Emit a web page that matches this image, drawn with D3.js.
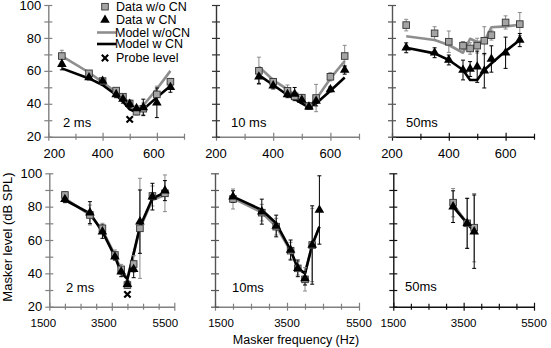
<!DOCTYPE html>
<html>
<head>
<meta charset="utf-8">
<script src="https://cdn.jsdelivr.net/npm/d3@7"></script>
<style>
  body { margin: 0; background: #fff; }
  svg { display: block; font-family: "Liberation Sans", Arial, Helvetica, sans-serif; }
</style>
</head>
<body>
<script>
// masker frequencies (Hz)
const freqLow = [250, 350, 400, 450, 475, 500, 525, 550, 600, 650];
const freqLow10 = [350, 400, 450, 475, 500, 525, 550, 600, 650];
const freqHigh = [2000, 2800, 3200, 3600, 3800, 4000, 4200, 4400, 4800, 5200];
const freqHigh10 = [2000, 2800, 3200, 3600, 3800, 4000, 4200, 4400];
const freqHigh10Sq = [2000, 2800, 3200, 3600, 3800, 4000, 4200];
const freqHigh50 = [3200, 3600, 3800];

// 500 Hz probe
const low2NoCN = [69, 58.5, 53.8, 48, 44.3, 40.2, 35.2, 37, 45.7, 53.4];
const low2NoCNErr = [3.5, 1.5, 1.5, 1.5, 1.5, 2, 2, 3.5, 5, 2];
const low2CN = [64.1, 56, 53.8, 45.7, 42.9, 39.8, 37.2, 37.8, 40.6, 50];
const low2CNErr = [3.5, 1.5, 1, 2, 2.5, 2, 1.5, 5, 9, 3];
const low2ModelNoCN = [69, 59, 53, 47, 44, 38.5, 35.5, 39, 49, 60];
const low2ModelCN = [61.5, 55.4, 51.4, 45.3, 41.3, 36.6, 34.8, 36.6, 43.9, 50.8];

const low10NoCN = [60, 53.4, 47.9, 44.5, 43.7, 38.6, 43.5, 56.4, 69];
const low10NoCNErr = [8.3, 2, 3.5, 2, 2, 2, 8.3, 2.5, 6.5];
const low10CN = [56.4, 51, 45.7, 45.9, 42.3, 38.2, 41.7, 48.7, 60.5];
const low10CNErr = [4, 2, 2, 4, 2, 1.5, 3, 1.5, 2.5];
const low10ModelNoCN = [62.5, 54.4, 48.7, 45.5, 42.3, 38.6, 42.7, 55.4, 66];
const low10ModelCN = [57.4, 51.4, 45.3, 43, 40.2, 37.8, 40.2, 47.9, 56];

const low50NoCN = [87.8, 82.8, 77.7, 75.3, 73.6, 75.3, 78.3, 81.7, 89.4, 88.4];
const low50NoCNErr = [3.5, 4, 6.5, 2.5, 3.5, 4.5, 8.5, 3, 4, 7];
const low50CN = [74, 71, 66.6, 60.5, 61.1, 62.5, 60.1, 67.2, 71, 78.7];
const low50CNErr = [3, 3, 3, 6, 4.5, 9.5, 10.5, 8, 9.5, 4];
const low50ModelNoCN = [81, 78.7, 75.7, 71, 79.5, 77.5, 78, 86.5, 87, 88];
const low50ModelCN = [74, 70.6, 66.6, 60.5, 54.4, 54.4, 60.5, 64.5, 72, 78.7];

// 4000 Hz probe
const high2NoCN = [87, 75, 67, 51, 42.4, 33, 45.6, 67, 86.4, 88];
const high2NoCNErr = [2, 6, 3, 3, 3, 2, 5, 30, 6, 11];
const high2CN = [84.4, 76.4, 65, 50, 41, 33.5, 42.4, 71, 86, 89.6];
const high2CNErr = [2, 6.6, 4, 2, 3, 2, 5, 19, 8, 6];
const high2ModelNoCN = [85, 75, 66, 51, 42, 37, 52, 67, 84, 87];
const high2ModelCN = [84, 76, 65, 50, 40.5, 36.5, 52, 68, 85, 88.5];

const high10NoCN = [84.6, 76.4, 68, 53.6, 43, 36.4, 57];
const high10NoCNErr = [6, 5, 5, 5, 4, 7, 22];
const high10CN = [86, 77, 68.4, 54, 43, 37, 57, 78];
const high10CNErr = [3.5, 7.5, 6.5, 6, 5, 4, 23.5, 20.5];
const high10ModelNoCN = [85, 76.5, 68, 53.5, 43, 40, 57, 68];
const high10ModelCN = [86, 78, 70, 54, 43, 40, 57, 68];

const high50NoCN = [82.4, 70, 67.4];
const high50NoCNErr = [8.5, 15, 20.5];
const high50CN = [80, 70, 65];
const high50CNErr = [9.5, 15, 22];
const high50ModelNoCN = [81.5, 70, 66];
const high50ModelCN = [80, 70, 65];

// probe levels
const probeFreq = [500, 4000];
const probeLevel = [30.5, 27.4];

const durationTags = ["2 ms", "10 ms", "50ms", "2 ms", "10ms", "50ms"];
const levelTicks = [20, 30, 40, 50, 60, 70, 80, 90, 100];
const levelLabels = [20, 40, 60, 80, 100];
const lowTicks = [200, 300, 400, 500, 600, 700];
const lowLabels = [200, 400, 600];
const highTicks = [1500, 2000, 2500, 3000, 3500, 4000, 4500, 5000, 5500];
const highLabels = [1500, 3500, 5500];

const legendLabels = ["Data w/o CN", "Data w CN", "Model w/oCN", "Model w CN", "Probe level"];

const W = 551, H = 348;
const GREY = "#8e8e8e", FILL = "#a4a4a4";

const svg = d3.select("body").append("svg")
  .attr("width", W).attr("height", H);

const pz = (fq, vals) => fq.map((f, i) => ({f, v: vals[i]}));
const pe = (fq, vals, err) => fq.map((f, i) => ({f, v: vals[i], e: err[i]}));

const panels = [
  {x: [48.3, 184], y: [136.7, 5], dom: [200, 700], ticks: lowTicks, labels: lowLabels, big: 13,
   xc: "#808080", yc: "#808080", ylab: true, tag: [63, 127], nudge: {200: 6, 600: -3},
   sq: pe(freqLow, low2NoCN, low2NoCNErr), tri: pe(freqLow, low2CN, low2CNErr),
   mg: pz(freqLow, low2ModelNoCN), mb: pz(freqLow, low2ModelCN), probe: 0},
  {x: [216, 359], y: [136.7, 5], dom: [200, 700], ticks: lowTicks, labels: lowLabels, big: 13,
   xc: "#808080", yc: "#333", ylab: false, tag: [231, 127], nudge: {},
   sq: pe(freqLow10, low10NoCN, low10NoCNErr), tri: pe(freqLow10, low10CN, low10CNErr),
   mg: pz(freqLow10, low10ModelNoCN), mb: pz(freqLow10, low10ModelCN)},
  {x: [392, 534], y: [136.7, 5], dom: [200, 700], ticks: lowTicks, labels: lowLabels, big: 13,
   xc: "#111", yc: "#555", ylab: false, tag: [406, 127], nudge: {},
   sq: pe(freqLow, low50NoCN, low50NoCNErr), tri: pe(freqLow, low50CN, low50CNErr),
   mg: pz(freqLow, low50ModelNoCN), mb: pz(freqLow, low50ModelCN)},
  {x: [49.3, 174.3], y: [306.7, 173.3], dom: [1500, 5500], ticks: highTicks, labels: highLabels, big: 11.5,
   xc: "#808080", yc: "#808080", ylab: true, tag: [66, 292], nudge: {1500: -6, 3500: -8, 5500: -9},
   sq: pe(freqHigh, high2NoCN, high2NoCNErr), tri: pe(freqHigh, high2CN, high2CNErr),
   mg: pz(freqHigh, high2ModelNoCN), mb: pz(freqHigh, high2ModelCN), probe: 1},
  {x: [215, 359], y: [306.7, 173.3], dom: [1500, 5500], ticks: highTicks, labels: highLabels, big: 11.5,
   xc: "#808080", yc: "#555", ylab: false, tag: [232, 292], nudge: {1500: 6},
   sq: pe(freqHigh10Sq, high10NoCN, high10NoCNErr), tri: pe(freqHigh10, high10CN, high10CNErr),
   mg: pz(freqHigh10, high10ModelNoCN), mb: pz(freqHigh10, high10ModelCN)},
  {x: [393.3, 534], y: [306.7, 173.3], dom: [1500, 5500], ticks: highTicks, labels: highLabels, big: 11.5,
   xc: "#111", yc: "#111", ylab: false, tag: [405, 291], nudge: {},
   sq: pe(freqHigh50, high50NoCN, high50NoCNErr), tri: pe(freqHigh50, high50CN, high50CNErr),
   mg: pz(freqHigh50, high50ModelNoCN), mb: pz(freqHigh50, high50ModelCN)}
];

const triSym = d3.symbol(d3.symbolTriangle, 40);
const xSym = d3.symbol(d3.symbolX, 28);

panels.forEach((p, k) => {
  const x = d3.scaleLinear().domain(p.dom).range(p.x);
  const y = d3.scaleLinear().domain([20, 100]).range(p.y);
  const g = svg.append("g");

  // x axis with crossing ticks
  const xa = g.append("g").attr("transform", `translate(0,${p.y[0]})`)
    .call(d3.axisBottom(x).tickValues(p.ticks).tickSize(0).tickFormat(""));
  xa.select(".domain").attr("stroke", p.xc).attr("stroke-width", 1.4);
  xa.selectAll(".tick line").attr("stroke", p.xc).attr("stroke-width", 1.2)
    .attr("y1", d => p.labels.includes(d) ? -4 : -3).attr("y2", d => p.labels.includes(d) ? 4 : 3);
  p.labels.forEach(v => {
    g.append("text").attr("x", x(v) + (p.nudge[v] || 0))
      .attr("y", p.y[0] + (p.big > 12 ? 21 : 20))
      .attr("text-anchor", "middle").attr("font-size", p.big).text(v);
  });

  // y axis
  const ya = g.append("g").attr("transform", `translate(${p.x[0]},0)`)
    .call(d3.axisLeft(y).tickValues(levelTicks).tickSize(0).tickFormat(""));
  ya.select(".domain").attr("stroke", p.yc).attr("stroke-width", 1.4);
  ya.selectAll(".tick line").attr("stroke", p.yc).attr("stroke-width", 1.2)
    .attr("x1", -4).attr("x2", 4);
  if (p.ylab) {
    levelLabels.forEach(v => {
      g.append("text").attr("x", p.x[0] - 7).attr("y", y(v) + 4.6)
        .attr("text-anchor", "end").attr("font-size", 13).text(v);
    });
  }

  g.append("text").attr("x", p.tag[0]).attr("y", p.tag[1])
    .attr("font-size", 13).text(durationTags[k]);

  const line = d3.line().x(d => x(d.f)).y(d => y(d.v));
  g.append("path").datum(p.mg).attr("d", line).attr("fill", "none")
    .attr("stroke", GREY).attr("stroke-width", 2.6).attr("stroke-linejoin", "round");
  g.append("path").datum(p.mb).attr("d", line).attr("fill", "none")
    .attr("stroke", "#000").attr("stroke-width", 2.6).attr("stroke-linejoin", "round");

  // error bars
  const bars = (data, col) => {
    const eb = g.append("g").attr("stroke", col).attr("stroke-width", 1);
    data.forEach(d => {
      const cx = x(d.f), y0 = y(d.v - d.e), y1 = y(d.v + d.e);
      eb.append("line").attr("x1", cx).attr("x2", cx).attr("y1", y0).attr("y2", y1);
      eb.append("line").attr("x1", cx - 2).attr("x2", cx + 2).attr("y1", y0).attr("y2", y0);
      eb.append("line").attr("x1", cx - 2).attr("x2", cx + 2).attr("y1", y1).attr("y2", y1);
    });
  };
  bars(p.sq, "#8a8a8a");
  bars(p.tri, "#000");

  g.selectAll(".sq").data(p.sq).join("rect")
    .attr("x", d => x(d.f) - 3.3).attr("y", d => y(d.v) - 3.3)
    .attr("width", 6.6).attr("height", 6.6)
    .attr("fill", FILL).attr("stroke", "#333").attr("stroke-width", 0.9);
  g.selectAll(".tri").data(p.tri).join("path")
    .attr("d", triSym).attr("transform", d => `translate(${x(d.f)},${y(d.v)})`)
    .attr("fill", "#000");

  if (p.probe !== undefined) {
    g.append("path").attr("d", xSym)
      .attr("transform", `translate(${x(probeFreq[p.probe])},${y(probeLevel[p.probe])})`)
      .attr("stroke", "#000").attr("stroke-width", 2.2);
  }
});

// legend
const lg = svg.append("g");
const lx = 105, tx = 116;
const rows = [6.7, 20, 32.5, 44, 58];
lg.append("rect").attr("x", lx - 3.3).attr("y", rows[0] - 3.3).attr("width", 6.6).attr("height", 6.6)
  .attr("fill", FILL).attr("stroke", "#333").attr("stroke-width", 0.9);
lg.append("path").attr("d", triSym).attr("transform", `translate(${lx},${rows[1]})`).attr("fill", "#000");
lg.append("line").attr("x1", 97).attr("x2", tx).attr("y1", rows[2]).attr("y2", rows[2])
  .attr("stroke", GREY).attr("stroke-width", 2.6);
lg.append("line").attr("x1", 97).attr("x2", tx).attr("y1", rows[3]).attr("y2", rows[3])
  .attr("stroke", "#000").attr("stroke-width", 2.6);
lg.append("path").attr("d", xSym).attr("transform", `translate(${lx},${rows[4]})`)
  .attr("stroke", "#000").attr("stroke-width", 2.2);
legendLabels.forEach((t, i) => {
  lg.append("text").attr("x", i === 2 || i === 3 ? tx - 1 : tx).attr("y", rows[i] + 4.4)
    .attr("font-size", 12.5).text(t);
});

// axis titles
svg.append("text").attr("transform", "translate(12,237) rotate(-90)")
  .attr("text-anchor", "middle").attr("font-size", 13).text("Masker level (dB SPL)");
svg.append("text").attr("x", 296).attr("y", 344)
  .attr("text-anchor", "middle").attr("font-size", 12.5).text("Masker frequency (Hz)");
</script>
</body>
</html>
